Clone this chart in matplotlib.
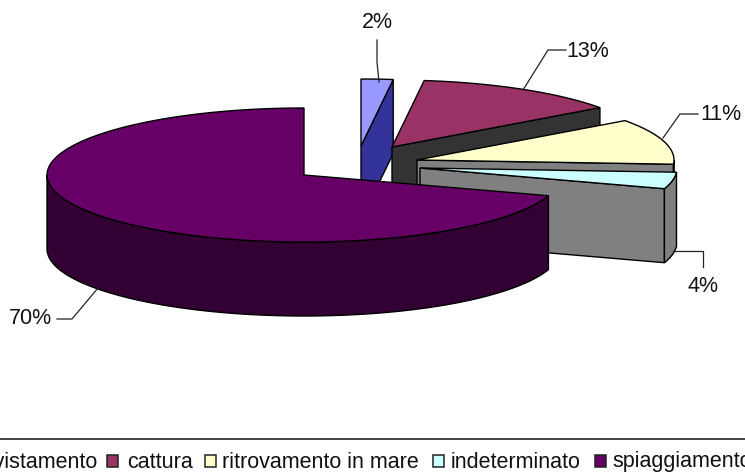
import numpy as np
import matplotlib
matplotlib.use("Agg")
import matplotlib.pyplot as plt
from matplotlib.patches import Polygon, Rectangle

# --- data ---
categories = ["avvistamento", "cattura", "ritrovamento in mare", "indeterminato", "spiaggiamento"]
percent = [2, 13, 11, 4, 70]
labels = ["2%", "13%", "11%", "4%", "70%"]

# --- style ---
top_colors = ["#9999FF", "#993366", "#FFFFCC", "#CCFFFF", "#660066"]
side_colors = ["#333399", "#333333", "#808080", "#808080", "#330033"]
apexes = [(361, 146), (392, 147), (417, 160), (420, 168), (304, 175)]
A, B, DEPTH = 257, 67, 74

label_pos = [(377, 23), (588, 51.5), (721, 115), (703, 286.5), (30, 318.5)]
leaders = [
    [(377, 40), (377, 62), (379, 82)],
    [(523, 90), (548, 50), (566, 50)],
    [(663, 138), (680, 114), (698, 114)],
    [(673, 251), (703, 251), (703, 267)],
    [(57, 319), (72, 319), (98, 288)],
]
legend_swatch_x = [-30, 107, 205, 433, 595]
legend_text_x = [97, 127, 222, 451, 612]
LEGEND_Y = 462
FONT = "Liberation Sans"
FS_LABEL = 15.5
FS_LEGEND = 15.5

fig = plt.figure(figsize=(7.45, 4.76), dpi=100)
ax = fig.add_axes([0, 0, 1, 1])
ax.set_xlim(0, 745)
ax.set_ylim(476, 0)
ax.axis("off")


def rim(apex, deg):
    t = np.radians(deg)
    return np.column_stack([apex[0] + A * np.sin(t), apex[1] - B * np.cos(t)])


def poly(pts, color, z):
    ax.add_patch(Polygon(pts, closed=True, facecolor=color, edgecolor="black",
                         linewidth=1.0, joinstyle="miter", zorder=z))


edges = np.cumsum([0] + percent) * 3.6
for i in range(len(percent)):
    a1, a2 = edges[i], edges[i + 1]
    apex = np.array(apexes[i], float)
    z = 2 + i * 3
    down = np.array([0, DEPTH])
    # cut face that looks toward the viewer
    if a2 < 180:
        p = rim(apex, [a2])[0]
        poly([apex, p, p + down, apex + down], side_colors[i], z)
    if a1 > 180:
        p = rim(apex, [a1])[0]
        poly([apex, p, p + down, apex + down], side_colors[i], z)
    # outer wall
    lo, hi = max(a1, 90), min(a2, 270)
    if hi > lo:
        arc = rim(apex, np.linspace(lo, hi, 80))
        poly(np.vstack([arc, (arc + down)[::-1]]), side_colors[i], z + 1)
    # top surface
    arc = rim(apex, np.linspace(a1, a2, 160))
    poly(np.vstack([apex, arc]), top_colors[i], z + 2)

for lab, (x, y), pts in zip(labels, label_pos, leaders):
    ax.text(x, y, lab, ha="center", va="center", fontsize=FS_LABEL, family=FONT,
            color="#111111", zorder=40)
    ax.plot(*zip(*pts), color="#222222", lw=0.9, zorder=39)

# legend, cropped by the picture edge as in the source
ax.plot([0, 745], [439, 439], color="#222222", lw=1.2, zorder=39)
for i, cat in enumerate(categories):
    ax.add_patch(Rectangle((legend_swatch_x[i], LEGEND_Y - 7), 11, 12,
                           facecolor=top_colors[i], edgecolor="#222222", lw=1.1, zorder=40))
    ha = "right" if i == 0 else "left"
    ax.text(legend_text_x[i], LEGEND_Y, cat, ha=ha, va="center", fontsize=FS_LEGEND,
            family=FONT, color="#111111", zorder=40)

fig.savefig("out.png", dpi=100, facecolor="white")
